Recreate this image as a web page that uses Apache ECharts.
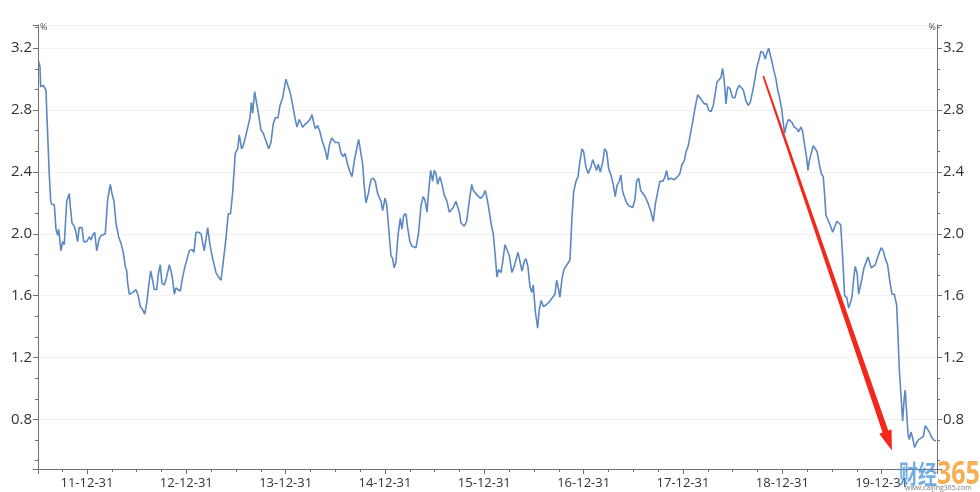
<!DOCTYPE html>
<html><head><meta charset="utf-8">
<script src="https://cdn.jsdelivr.net/npm/echarts@6/dist/echarts.min.js"></script>
<style>html,body{margin:0;padding:0;background:#fff}#c{width:980px;height:492px}</style>
</head><body><div id="c"></div>
<script>
// time in decimal years, yield in %
const years = [
2011.510,2011.527,2011.534,2011.560,2011.577,2011.587,2011.602,2011.620,2011.635,2011.648,
2011.671,2011.688,2011.705,2011.715,2011.738,2011.755,2011.771,2011.796,2011.814,2011.822,
2011.832,2011.849,2011.872,2011.889,2011.906,2011.922,2011.950,2011.967,2011.997,2012.023,
2012.040,2012.057,2012.078,2012.098,2012.124,2012.144,2012.164,2012.184,2012.208,2012.235,
2012.252,2012.272,2012.292,2012.319,2012.342,2012.365,2012.386,2012.400,2012.410,2012.426,
2012.460,2012.493,2012.516,2012.537,2012.561,2012.581,2012.601,2012.621,2012.641,2012.661,
2012.677,2012.702,2012.718,2012.738,2012.755,2012.778,2012.802,2012.828,2012.846,2012.863,
2012.879,2012.896,2012.916,2012.939,2012.963,2012.987,2013.007,2013.030,2013.057,2013.077,
2013.097,2013.122,2013.148,2013.181,2013.215,2013.238,2013.265,2013.299,2013.326,2013.349,
2013.372,2013.399,2013.422,2013.445,2013.467,2013.493,2013.517,2013.533,2013.557,2013.573,
2013.601,2013.621,2013.641,2013.654,2013.668,2013.688,2013.708,2013.728,2013.752,2013.775,
2013.795,2013.829,2013.852,2013.875,2013.896,2013.923,2013.943,2013.970,2014.003,2014.020,
2014.047,2014.071,2014.094,2014.114,2014.137,2014.154,2014.171,2014.198,2014.220,2014.245,
2014.265,2014.282,2014.298,2014.322,2014.345,2014.373,2014.399,2014.419,2014.439,2014.463,
2014.481,2014.500,2014.534,2014.557,2014.580,2014.597,2014.624,2014.648,2014.668,2014.691,
2014.715,2014.735,2014.758,2014.775,2014.791,2014.809,2014.832,2014.859,2014.882,2014.902,
2014.926,2014.942,2014.960,2014.977,2015.000,2015.017,2015.037,2015.060,2015.077,2015.093,
2015.111,2015.131,2015.154,2015.171,2015.188,2015.211,2015.228,2015.251,2015.272,2015.292,
2015.312,2015.339,2015.362,2015.385,2015.402,2015.423,2015.440,2015.460,2015.480,2015.496,
2015.513,2015.530,2015.553,2015.574,2015.597,2015.624,2015.647,2015.664,2015.687,2015.714,
2015.732,2015.748,2015.765,2015.782,2015.798,2015.822,2015.848,2015.873,2015.889,2015.916,
2015.943,2015.966,2015.989,2016.009,2016.021,2016.044,2016.067,2016.090,2016.110,2016.127,
2016.144,2016.168,2016.185,2016.208,2016.228,2016.251,2016.278,2016.301,2016.318,2016.339,
2016.359,2016.379,2016.402,2016.419,2016.439,2016.459,2016.477,2016.493,2016.513,2016.537,
2016.553,2016.573,2016.593,2016.621,2016.654,2016.688,2016.711,2016.728,2016.748,2016.761,
2016.782,2016.802,2016.822,2016.842,2016.862,2016.882,2016.899,2016.923,2016.943,2016.963,
2016.983,2017.000,2017.023,2017.046,2017.071,2017.091,2017.111,2017.131,2017.147,2017.167,
2017.191,2017.211,2017.232,2017.252,2017.275,2017.298,2017.318,2017.335,2017.358,2017.375,
2017.393,2017.413,2017.433,2017.459,2017.493,2017.516,2017.533,2017.554,2017.574,2017.594,
2017.620,2017.647,2017.674,2017.701,2017.721,2017.745,2017.768,2017.795,2017.815,2017.835,
2017.851,2017.879,2017.912,2017.946,2017.969,2017.990,2018.013,2018.030,2018.053,2018.073,
2018.097,2018.120,2018.148,2018.171,2018.191,2018.214,2018.238,2018.258,2018.282,2018.305,
2018.325,2018.342,2018.359,2018.382,2018.399,2018.415,2018.433,2018.450,2018.473,2018.500,
2018.523,2018.543,2018.566,2018.586,2018.607,2018.634,2018.657,2018.677,2018.701,2018.724,
2018.741,2018.762,2018.785,2018.808,2018.828,2018.845,2018.862,2018.878,2018.893,2018.913,
2018.936,2018.953,2018.969,2018.993,2019.009,2019.023,2019.044,2019.064,2019.077,2019.097,
2019.120,2019.144,2019.164,2019.187,2019.205,2019.225,2019.245,2019.258,2019.271,2019.291,
2019.311,2019.331,2019.351,2019.372,2019.392,2019.412,2019.426,2019.439,2019.459,2019.479,
2019.507,2019.527,2019.547,2019.567,2019.587,2019.600,2019.613,2019.627,2019.648,2019.668,
2019.684,2019.701,2019.718,2019.734,2019.754,2019.768,2019.784,2019.801,2019.822,2019.842,
2019.862,2019.882,2019.895,2019.915,2019.935,2019.956,2019.976,2019.996,2020.016,2020.036,
2020.060,2020.083,2020.104,2020.127,2020.151,2020.164,2020.177,2020.194,2020.211,2020.227,
2020.237,2020.251,2020.265,2020.278,2020.295,2020.312,2020.332,2020.352,2020.372,2020.396,
2020.419,2020.439,2020.459,2020.479,2020.499,2020.519,2020.546
];
const yields = [
3.12,3.08,2.95,2.96,2.97,2.93,2.68,2.39,2.21,2.19,
2.19,2.03,1.99,2.03,1.89,1.95,1.93,2.21,2.21,2.26,
2.18,2.07,2.05,2.01,1.95,2.04,2.04,1.95,1.95,1.98,
1.96,1.99,2.01,1.89,1.97,1.99,1.98,2.00,2.22,2.32,
2.26,2.21,2.07,1.98,1.94,1.88,1.79,1.76,1.68,1.61,
1.62,1.64,1.60,1.53,1.51,1.48,1.55,1.66,1.76,1.70,
1.64,1.64,1.74,1.80,1.68,1.67,1.72,1.80,1.76,1.70,
1.61,1.65,1.66,1.63,1.72,1.79,1.78,1.89,1.90,1.88,
2.01,2.01,2.00,1.89,2.04,1.93,1.84,1.75,1.72,1.70,
1.82,1.97,2.13,2.13,2.27,2.52,2.55,2.64,2.55,2.57,
2.64,2.63,2.75,2.85,2.78,2.92,2.92,2.77,2.67,2.65,
2.66,2.55,2.59,2.71,2.75,2.75,2.83,2.88,3.00,3.00,
2.91,2.83,2.75,2.69,2.74,2.74,2.69,2.71,2.72,2.74,
2.77,2.72,2.68,2.70,2.66,2.59,2.54,2.48,2.57,2.62,
2.62,2.59,2.59,2.52,2.50,2.52,2.45,2.40,2.37,2.47,
2.55,2.61,2.52,2.45,2.31,2.20,2.26,2.35,2.36,2.34,
2.26,2.26,2.21,2.15,2.23,2.19,2.04,1.86,1.84,1.78,
1.82,1.99,2.10,2.03,2.12,2.13,2.04,1.95,1.92,1.93,
1.91,2.01,2.18,2.24,2.22,2.14,2.28,2.41,2.34,2.41,
2.39,2.32,2.37,2.32,2.25,2.21,2.14,2.13,2.17,2.21,
2.21,2.14,2.07,2.08,2.05,2.08,2.21,2.32,2.28,2.26,
2.24,2.23,2.25,2.28,2.25,2.17,2.07,2.00,1.86,1.72,
1.77,1.75,1.82,1.93,1.93,1.86,1.75,1.79,1.83,1.88,
1.82,1.76,1.82,1.84,1.79,1.66,1.62,1.67,1.50,1.39,
1.51,1.57,1.53,1.54,1.56,1.59,1.61,1.70,1.64,1.59,
1.71,1.77,1.78,1.81,1.83,2.10,2.27,2.34,2.37,2.47,
2.55,2.53,2.43,2.39,2.43,2.48,2.47,2.41,2.45,2.40,
2.46,2.55,2.53,2.42,2.38,2.32,2.24,2.31,2.34,2.38,
2.27,2.26,2.20,2.18,2.17,2.22,2.34,2.36,2.28,2.29,
2.24,2.20,2.15,2.08,2.19,2.27,2.34,2.34,2.36,2.41,
2.35,2.36,2.35,2.37,2.39,2.45,2.47,2.53,2.57,2.64,
2.72,2.81,2.90,2.88,2.89,2.84,2.84,2.80,2.79,2.83,
2.91,2.98,2.97,3.01,3.07,2.99,2.84,2.95,2.94,2.88,
2.88,2.93,2.96,2.97,2.93,2.86,2.83,2.85,2.92,3.00,
3.07,3.12,3.18,3.17,3.13,3.17,3.20,3.21,3.12,3.06,
3.00,2.93,2.89,2.81,2.72,2.65,2.71,2.74,2.74,2.72,
2.69,2.68,2.66,2.69,2.66,2.57,2.49,2.41,2.47,2.52,
2.57,2.55,2.53,2.45,2.39,2.37,2.25,2.12,2.11,2.06,
2.01,2.01,2.08,2.07,2.06,1.93,1.78,1.60,1.59,1.52,
1.51,1.59,1.71,1.79,1.74,1.61,1.62,1.71,1.78,1.78,
1.85,1.86,1.78,1.77,1.80,1.84,1.88,1.91,1.89,1.84,
1.80,1.69,1.61,1.61,1.54,1.35,1.13,0.96,0.79,0.94,
0.99,0.85,0.71,0.67,0.72,0.68,0.62,0.65,0.67,0.68,
0.69,0.76,0.77,0.72,0.69,0.67,0.66
];
const xRange = [2011.507, 2020.557];
const yRange = [0.48, 3.35];
const xMajorStep = 1, xMinorStep = 0.25;
const yMajorStep = 0.4, yMinorStep = 0.4 / 3;
const tickDaySuffix = '-12-31';
const unitName = '%';
const arrowFrom = [2018.808, 3.02];
const arrowTo = [2020.103, 0.60];
const watermarkCn = '财经', watermarkNum = '365', watermarkUrl = 'www.caijing365.com';

const FONT = '"Open Sans", "Noto Sans", sans-serif';
const AX = '#707070';
const chart = echarts.init(document.getElementById('c'), null, {renderer: 'canvas'});

const isMult = (v, s) => Math.abs(v / s - Math.round(v / s)) < 1e-6;

function yMajor(pos) {
  return {
    type: 'value', position: pos, min: yRange[0], max: yRange[1],
    minInterval: yMajorStep, maxInterval: yMajorStep, splitNumber: 7,
    name: unitName, nameLocation: 'end', nameGap: -7,
    nameTextStyle: {fontSize: 9, color: '#555', fontFamily: FONT, align: pos === 'left' ? 'left' : 'right',
      padding: pos === 'left' ? [0, 0, 0, 2] : [0, 1, 0, 0]},
    axisLine: {show: true, lineStyle: {color: AX, width: 1}},
    axisTick: {show: true, length: 5, lineStyle: {color: AX}},
    axisLabel: {fontSize: 15, color: '#333', fontFamily: FONT, margin: 6,
      formatter: v => isMult(v, yMajorStep) ? v.toFixed(1) : ''},
    splitLine: {show: pos === 'left', lineStyle: {color: '#f1f1f1', width: 1}}
  };
}
function yMinor(pos) {
  return {
    type: 'value', position: pos, min: yRange[0], max: yRange[1],
    minInterval: yMinorStep, maxInterval: yMinorStep, splitNumber: 20,
    axisLine: {show: false}, axisTick: {show: true, length: 3, lineStyle: {color: AX}},
    axisLabel: {show: false}, splitLine: {show: false}
  };
}

chart.setOption({
  animation: false,
  backgroundColor: '#fff',
  grid: {left: 38, right: 43, top: 25, bottom: 23, containLabel: false},
  xAxis: [
    {
      type: 'value', position: 'bottom', min: xRange[0], max: xRange[1],
      minInterval: xMajorStep, maxInterval: xMajorStep, splitNumber: 9,
      axisLine: {show: true, lineStyle: {color: AX, width: 1}},
      axisTick: {show: true, length: 5, lineStyle: {color: AX}},
      axisLabel: {fontSize: 13, color: '#333', fontFamily: FONT, margin: 8,
        formatter: v => isMult(v, xMajorStep) ? String(Math.round(v) - 1).slice(2) + tickDaySuffix : ''},
      splitLine: {show: false}
    },
    {
      type: 'value', position: 'bottom', min: xRange[0], max: xRange[1],
      minInterval: xMinorStep, maxInterval: xMinorStep, splitNumber: 40,
      axisLine: {show: false}, axisTick: {show: true, length: 3, lineStyle: {color: AX}},
      axisLabel: {show: false}, splitLine: {show: false}
    }
  ],
  yAxis: [yMajor('left'), yMinor('left'), yMajor('right'), yMinor('right')],
  series: [{
    type: 'line', xAxisIndex: 0, yAxisIndex: 0,
    data: years.map((t, i) => [t, yields[i]]),
    showSymbol: false, symbol: 'none',
    lineStyle: {color: '#5b88c3', width: 1.6},
    z: 3
  }]
});

const p0 = chart.convertToPixel({xAxisIndex: 0, yAxisIndex: 0}, arrowFrom);
const p1 = chart.convertToPixel({xAxisIndex: 0, yAxisIndex: 0}, arrowTo);
const dx = p1[0] - p0[0], dy = p1[1] - p0[1], L = Math.hypot(dx, dy);
const ux = dx / L, uy = dy / L, nx = -uy, ny = ux;
const headLen = 20, headHalf = 6.5, w0 = 0.9, w1 = 3.0;
const bx = p1[0] - ux * headLen, by = p1[1] - uy * headLen;
const pts = [
  [p0[0] + nx * w0, p0[1] + ny * w0], [bx + nx * w1, by + ny * w1], [bx + nx * headHalf, by + ny * headHalf],
  [p1[0], p1[1]], [bx - nx * headHalf, by - ny * headHalf], [bx - nx * w1, by - ny * w1],
  [p0[0] - nx * w0, p0[1] - ny * w0]
];

chart.setOption({
  graphic: [
    {type: 'polygon', shape: {points: pts}, style: {fill: '#f3271b'}, z: 10},
    {type: 'text', left: 899, top: 461, z: 11, scaleY: 1.35,
      style: {text: watermarkCn, fontSize: 19, fontWeight: 'bold', fill: 'rgba(70,145,215,0.75)', fontFamily: '"Noto Sans CJK SC", sans-serif'}},
    {type: 'text', left: 937, top: 458, z: 11, scaleY: 1.3,
      style: {text: watermarkNum, fontSize: 25, fontWeight: 'bold', fill: 'rgba(245,160,55,0.85)', fontFamily: FONT}},
    {type: 'text', left: 905, top: 484, z: 12,
      style: {text: watermarkUrl, fontSize: 7, fill: 'rgba(90,90,90,0.8)', fontFamily: FONT}}
  ]
});
</script></body></html>
